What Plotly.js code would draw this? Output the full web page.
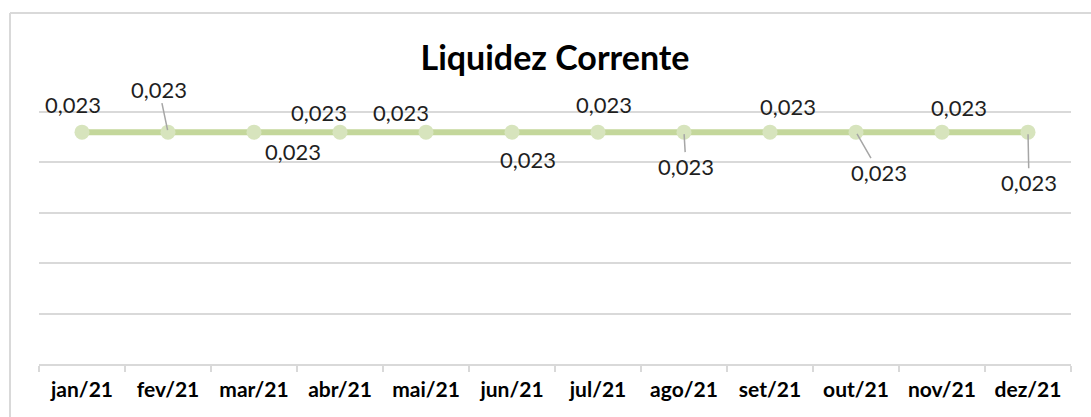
<!DOCTYPE html>
<html>
<head>
<meta charset="utf-8">
<script src="https://cdn.plot.ly/plotly-3.0.1.min.js"></script>
<style>
  html, body { margin: 0; padding: 0; background: #ffffff; }
  #chart { width: 1091px; height: 417px; }
</style>
</head>
<body>
<div id="chart"></div>
<script>
// ---- data ----
const categories = ["jan/21", "fev/21", "mar/21", "abr/21", "mai/21", "jun/21",
                    "jul/21", "ago/21", "set/21", "out/21", "nov/21", "dez/21"];
const values = [0.023, 0.023, 0.023, 0.023, 0.023, 0.023,
                0.023, 0.023, 0.023, 0.023, 0.023, 0.023];
const chartTitle = "Liquidez Corrente";

// ---- label placement (pixel offsets of label centre from its point; layout only) ----
const labelDx = [-9, -9, 39, -21, -25, 16, 6, 2, 18, 23, 17, 1];
const labelDy = [-28, -43, 19, -20, -20, 27, -28, 34, -26, 40, -25, 50];
const labelLeader = [false, true, false, false, false, false, false, true, false, true, false, true];

const fmt = v => v.toFixed(3).replace('.', ',');
const labelFont = { family: "Lato, 'Open Sans', sans-serif", size: 22, color: "#1f1f1f" };

const annotations = categories.map((c, i) => {
  if (labelLeader[i]) {
    return {
      x: c, y: values[i], xref: 'x', yref: 'y',
      text: fmt(values[i]), font: labelFont,
      showarrow: true, arrowhead: 0, arrowwidth: 1.5, arrowcolor: '#a6a6a6',
      ax: labelDx[i], ay: labelDy[i], axref: 'pixel', ayref: 'pixel',
      standoff: 2, borderpad: 0
    };
  }
  return {
    x: c, y: values[i], xref: 'x', yref: 'y',
    text: fmt(values[i]), font: labelFont, showarrow: false,
    xshift: labelDx[i], yshift: -labelDy[i]
  };
});

const trace = {
  type: 'scatter', mode: 'lines+markers',
  x: categories, y: values,
  line: { color: '#c4d79b', width: 6 },
  marker: { color: '#d7e4bd', size: 15, line: { width: 0 } },
  hoverinfo: 'none', cliponaxis: false
};

const layout = {
  width: 1091, height: 417,
  margin: { l: 39, r: 20, t: 112, b: 53 },
  paper_bgcolor: '#ffffff', plot_bgcolor: '#ffffff',
  showlegend: false,
  title: {
    text: '<b>' + chartTitle + '</b>',
    font: { family: "Lato, 'Open Sans', sans-serif", size: 34, color: '#000000' },
    x: 0.5, xanchor: 'center', xref: 'paper',
    y: 0.861, yref: 'container', yanchor: 'middle'
  },
  xaxis: {
    type: 'category',
    tickson: 'boundaries',
    ticks: 'outside', ticklen: 6, tickwidth: 2, tickcolor: '#d9d9d9',
    showline: true, linecolor: '#d9d9d9', linewidth: 2,
    showgrid: false, zeroline: false,
    ticklabelstandoff: 6,
    tickfont: { family: "Lato, 'Open Sans', sans-serif", size: 21, color: '#000000', weight: 'bold' },
    range: [-0.5, 11.5]
  },
  yaxis: {
    range: [0, 0.025], dtick: 0.005, tick0: 0,
    showticklabels: false, ticks: '',
    showgrid: true, gridcolor: '#d9d9d9', gridwidth: 2,
    zeroline: false, showline: false
  },
  annotations: annotations,
  shapes: [
    // top edge of plot area (gridline at axis maximum)
    { type: 'line', xref: 'paper', yref: 'paper', layer: 'above',
      x0: 0, x1: 1, y0: 1, y1: 1,
      line: { color: '#d9d9d9', width: 2 } },
    // chart area border
    { type: 'line', xref: 'paper', yref: 'paper',
      x0: -0.0281, x1: 1.05, y0: 1.393, y1: 1.393,
      line: { color: '#d9d9d9', width: 2 } },
    { type: 'line', xref: 'paper', yref: 'paper',
      x0: -0.0281, x1: -0.0281, y0: 1.393, y1: -0.3,
      line: { color: '#d9d9d9', width: 2 } }
  ]
};

Plotly.newPlot('chart', [trace], layout, { displayModeBar: false, staticPlot: true });
</script>
</body>
</html>
